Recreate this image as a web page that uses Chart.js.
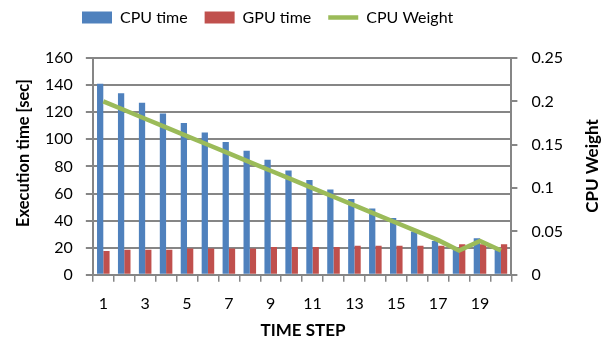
<!DOCTYPE html>
<html>
<head>
<meta charset="utf-8">
<script src="https://cdn.jsdelivr.net/npm/chart.js@4/dist/chart.umd.min.js"></script>
<style>
  html, body { margin: 0; padding: 0; background: #fff; }
  #wrap { width: 611px; height: 345px; }
</style>
</head>
<body>
<div id="wrap"><canvas id="chart" width="611" height="345"></canvas></div>
<script>
// time steps 1..20
const steps = ['1','2','3','4','5','6','7','8','9','10','11','12','13','14','15','16','17','18','19','20']
const cpuTime = [141, 134, 127, 119, 112, 105, 98, 91.5, 85, 77, 70, 63, 56, 49, 42, 32, 25, 20, 27, 19.5]
const gpuTime = [17.5, 18.5, 18.5, 18.5, 19.5, 19.5, 19.5, 19.5, 20.5, 20.5, 20.5, 20.5, 21.5, 21.5, 21.5, 21.5, 21.5, 22.5, 22.5, 22.5]
const cpuWeight = [0.2, 0.19, 0.18, 0.17, 0.16, 0.15, 0.14, 0.13, 0.12, 0.11, 0.1, 0.09, 0.08, 0.07, 0.06, 0.05, 0.04, 0.028, 0.039, 0.028]

const gray = '#868686'
const font = 'Lato, "Liberation Sans", sans-serif'

// legend: keep it high, push the plot down, start it a bit left of centre
const legendPlacer = {
    id: 'legendPlacer',
    beforeLayout(chart) {
        const lg = chart.legend
        if (lg && !lg._patched) {
            const fit = lg.fit
            lg.fit = function () {
                fit.call(this)
                this.height = 58
            }
            lg._patched = true
        }
    },
    afterLayout(chart) {
        chart.legend.left = 65
        chart.legend.top = -7.5
    }
}

// axis titles drawn by hand (right one reads bottom-to-top like the left one)
const axisTitles = {
    id: 'axisTitles',
    afterDraw(chart) {
        const c = chart.ctx
        c.save()
        c.fillStyle = '#000'
        c.textAlign = 'center'
        c.textBaseline = 'middle'

        c.font = 'bold 17px ' + font
        c.fillText('TIME STEP', 303, 331)

        c.save()
        c.translate(24, 153)
        c.rotate(-Math.PI / 2)
        c.font = 'bold 16.5px ' + font
        c.fillText('Execution time [sec]', 0, 0)
        c.restore()

        c.save()
        c.translate(593, 166)
        c.rotate(-Math.PI / 2)
        c.font = 'bold 17px ' + font
        c.fillText('CPU Weight', 0, 0)
        c.restore()

        c.restore()
    }
}

const ctx = document.getElementById('chart').getContext('2d')
new Chart(ctx, {
    type: 'bar',
    data: {
        labels: steps,
        datasets: [
            {
                label: 'CPU Weight',
                type: 'line',
                data: cpuWeight,
                yAxisID: 'y1',
                borderColor: '#9BBB59',
                backgroundColor: '#9BBB59',
                borderWidth: 4.5,
                pointRadius: 0,
                tension: 0,
                order: 0
            },
            {
                label: 'CPU time',
                data: cpuTime,
                backgroundColor: '#4F81BD',
                yAxisID: 'y',
                order: 1
            },
            {
                label: 'GPU time',
                data: gpuTime,
                backgroundColor: '#C0504D',
                yAxisID: 'y',
                order: 1
            }
        ]
    },
    options: {
        responsive: false,
        animation: false,
        datasets: {
            bar: { categoryPercentage: 0.6, barPercentage: 1.0 }
        },
        layout: { padding: { left: 32, right: 34, top: 0, bottom: 20 } },
        plugins: {
            legend: {
                position: 'top',
                align: 'start',
                labels: {
                    font: { family: font, size: 16 },
                    color: '#000',
                    usePointStyle: true,
                    pointStyleWidth: 30,
                    boxHeight: 12,
                    padding: 17,
                    generateLabels: (chart) => {
                        // bars first, line last (like the original legend)
                        const ds = chart.data.datasets
                        return [1, 2, 0].map(i => ({
                            text: ds[i].label,
                            fillStyle: ds[i].type === 'line' ? ds[i].borderColor : ds[i].backgroundColor,
                            strokeStyle: ds[i].type === 'line' ? ds[i].borderColor : ds[i].backgroundColor,
                            lineWidth: ds[i].type === 'line' ? 4.5 : 0,
                            pointStyle: ds[i].type === 'line' ? 'line' : 'rect',
                            fontColor: '#000',
                            datasetIndex: i,
                            hidden: false
                        }))
                    }
                }
            },
            tooltip: { enabled: false }
        },
        scales: {
            x: {
                ticks: {
                    autoSkip: false,
                    maxRotation: 0,
                    font: { family: font, size: 16 },
                    color: '#000',
                    padding: 12,
                    callback: function (v, i) { return i % 2 === 0 ? this.getLabelForValue(v) : '' }
                },
                grid: {
                    drawOnChartArea: false,
                    color: gray,
                    lineWidth: 1.5,
                    tickLength: 7,
                    tickColor: gray
                },
                border: { color: gray, width: 2 }
            },
            y: {
                position: 'left',
                min: 0,
                max: 160,
                ticks: {
                    stepSize: 20,
                    font: { family: font, size: 16 },
                    color: '#000',
                    padding: 13
                },
                grid: {
                    color: gray,
                    lineWidth: 2,
                    tickLength: 7,
                    tickColor: gray
                },
                border: { color: gray, width: 2 }
            },
            y1: {
                position: 'right',
                min: 0,
                max: 0.25,
                ticks: {
                    stepSize: 0.05,
                    font: { family: font, size: 16 },
                    color: '#000',
                    padding: 14,
                    callback: (v) => String(Math.round(v * 100) / 100)
                },
                grid: {
                    drawOnChartArea: false,
                    color: gray,
                    lineWidth: 2,
                    tickLength: 6,
                    tickColor: gray
                },
                border: { color: gray, width: 2 }
            }
        }
    },
    plugins: [legendPlacer, axisTitles]
})
</script>
</body>
</html>
